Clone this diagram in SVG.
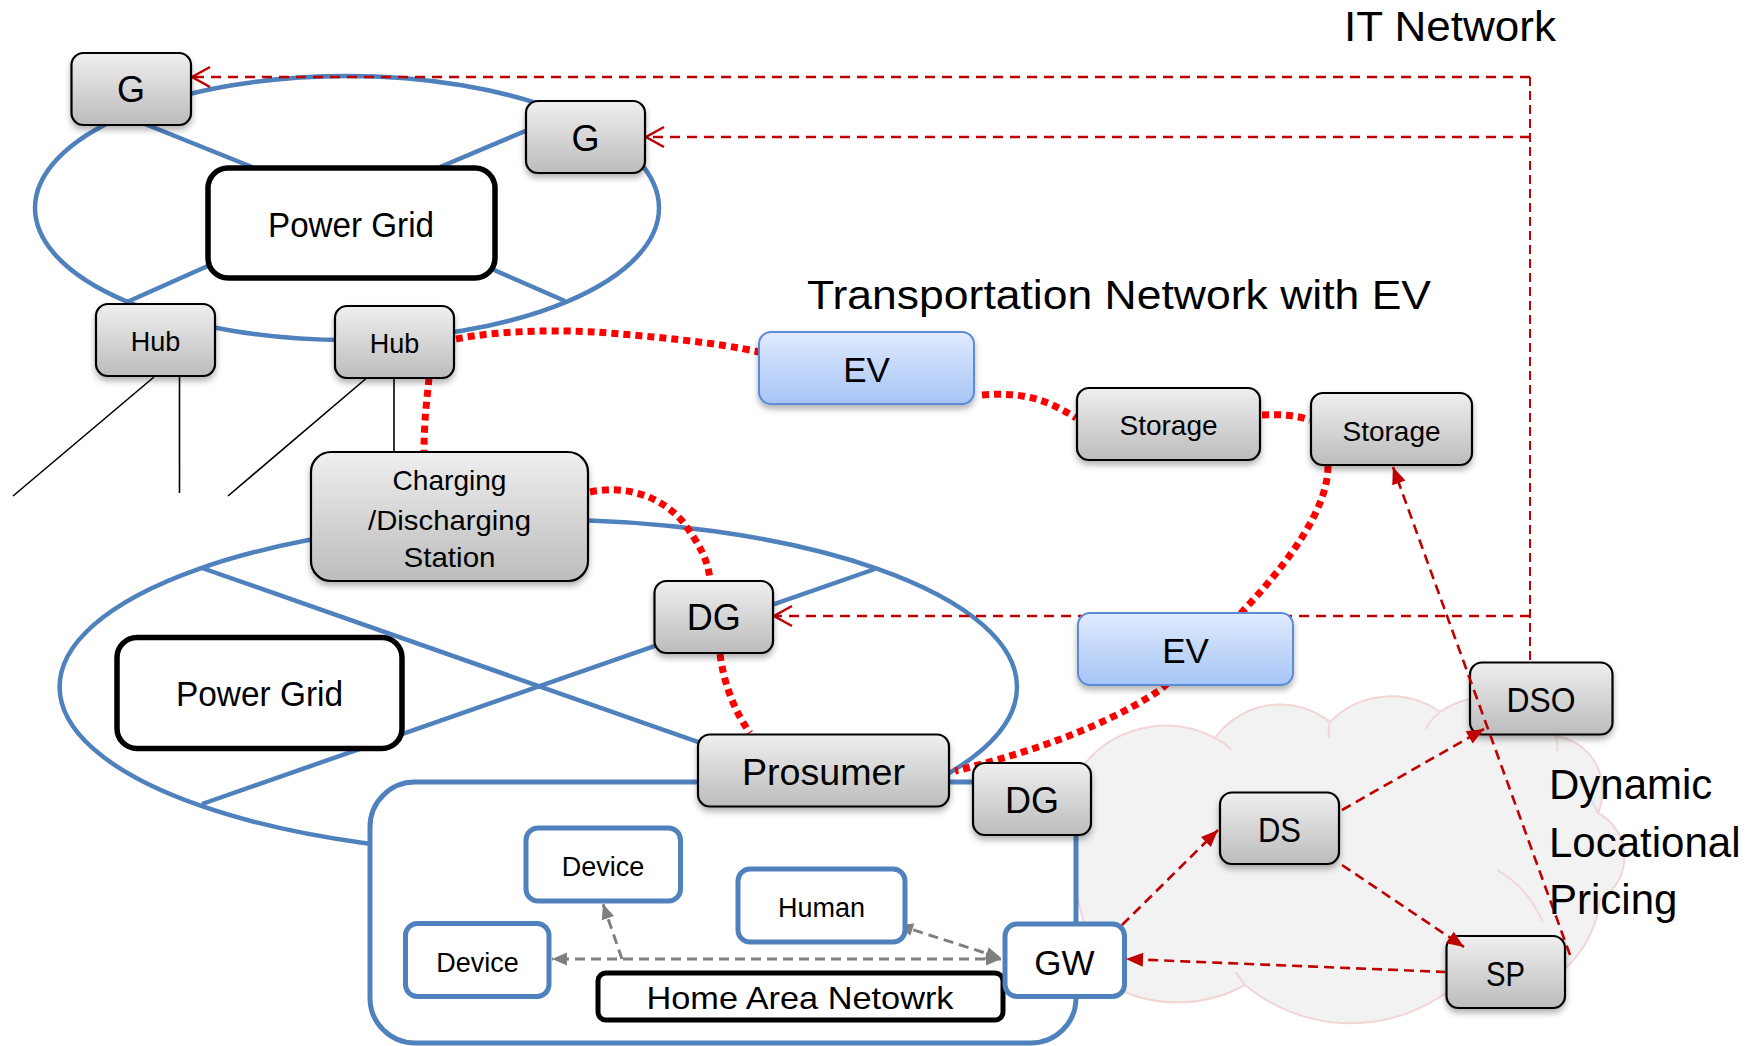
<svg xmlns="http://www.w3.org/2000/svg" width="1752" height="1046" viewBox="0 0 1752 1046">
<style>
.t{font-family:"Liberation Sans",Arial,sans-serif;fill:#000;text-anchor:middle}
.ts{font-family:"Liberation Sans",Arial,sans-serif;fill:#000}
.gray{fill:url(#gGray);stroke:#000;stroke-width:2.2;filter:url(#sh)}
.ev{fill:url(#gBlue);stroke:#5b8bd8;stroke-width:2;filter:url(#sh)}
.pg{fill:#fff;stroke:#000;stroke-width:5.5}
.wb{fill:#fff;stroke:#4f81bd;stroke-width:5}
.grid{fill:none;stroke:#4f81bd;stroke-width:4.5}
.hubl{stroke:#000;stroke-width:1.6;fill:none}
.dot{fill:none;stroke:#ff0000;stroke-width:7;stroke-dasharray:7 5}
.it{fill:none;stroke:#c00000;stroke-width:2.6;stroke-dasharray:10 7}
.itv{fill:none;stroke:#c00000;stroke-width:2;stroke-dasharray:9 5}
.rd{fill:none;stroke:#c00000;stroke-width:2.6;stroke-dasharray:10 6}
.gd{fill:none;stroke:#7f7f7f;stroke-width:3;stroke-dasharray:10 6}
</style>
<defs>
<linearGradient id="gGray" x1="0" y1="0" x2="0" y2="1"><stop offset="0" stop-color="#efefef"/><stop offset="1" stop-color="#bcbcbc"/></linearGradient>
<linearGradient id="gBlue" x1="0" y1="0" x2="0" y2="1"><stop offset="0" stop-color="#e0ebfd"/><stop offset="1" stop-color="#a6c4f6"/></linearGradient>
<filter id="sh" x="-15%" y="-15%" width="130%" height="150%"><feDropShadow dx="0" dy="4" stdDeviation="3" flood-color="#000" flood-opacity="0.3"/></filter>
<marker id="chev" markerUnits="userSpaceOnUse" markerWidth="22" markerHeight="24" refX="19" refY="11" orient="auto" overflow="visible"><path d="M1,1 L19,11 L1,21" fill="none" stroke="#c00000" stroke-width="2.5"/></marker>
<marker id="ar" markerUnits="userSpaceOnUse" markerWidth="18" markerHeight="16" refX="17" refY="7" orient="auto" overflow="visible"><path d="M0,0 L17,7 L0,14 Z" fill="#c00000"/></marker>
<marker id="ag" markerUnits="userSpaceOnUse" markerWidth="16" markerHeight="14" refX="15" refY="6.5" orient="auto-start-reverse" overflow="visible"><path d="M0,0 L15,6.5 L0,13 Z" fill="#7f7f7f"/></marker>
</defs>
<rect width="1752" height="1046" fill="#fff"/>

<g id="grid-top">
<ellipse class="grid" cx="347" cy="208" rx="312" ry="132"/>
<line class="grid" x1="140" y1="122" x2="252" y2="167"/>
<line class="grid" x1="494" y1="270" x2="565" y2="301"/>
<line class="grid" x1="530" y1="129" x2="440" y2="167"/>
<line class="grid" x1="210" y1="265" x2="127" y2="302"/>
</g>

<g id="grid-bottom">
<ellipse class="grid" cx="538.3" cy="687" rx="478.7" ry="167.5"/>
<line class="grid" x1="202" y1="568" x2="875" y2="804"/>
<line class="grid" x1="875" y1="569" x2="202" y2="804"/>
</g>

<g id="cloud">
<path d="M1080,770 A105,105 0 0 1 1215,738 A80,80 0 0 1 1330,722 A85,85 0 0 1 1440,712 A80,80 0 0 1 1555,736 A55,55 0 0 1 1598,813 A50,50 0 0 1 1600,900 A110,110 0 0 1 1450,990 A165,165 0 0 1 1245,985 A140,140 0 0 1 1110,985 A300,300 0 0 1 1080,770 Z" fill="#f2f2f2" stroke="#f2d6d6" stroke-width="2"/>
<path d="M1215,738 q9,4 16,12 M1330,722 q-2,8 -1,15 M1440,712 q-10,8 -14,17 M1556,737 q2,8 1,14 M1497,870 q32,18 46,53 M1245,985 q-6,-7 -9,-13 M1598,813 q-5,-12 -12,-20" fill="none" stroke="#f2d6d6" stroke-width="2"/>
</g>

<g id="home-area-container">
<rect class="wb" x="370" y="782" width="706" height="261" rx="45"/>
</g>

<g id="connectors">
<path class="hubl" d="M154,377 L13,496 M179.5,377 L179.5,493 M369,376 L228,496 M394,378 L394,452"/>
<path class="dot" d="M456,339 C500,330 560,330 595,332 C650,336 720,343 759,352"/>
<path class="dot" d="M429,378 C427,400 424,420 424,451"/>
<path class="dot" d="M982,395 C1020,392 1045,398 1076,418"/>
<path class="dot" d="M1262,415 C1280,414 1295,415 1310,420"/>
<path class="dot" d="M1328,466 C1328,530 1240,620 1160,690 C1100,730 1020,755 955,771"/>
<path class="dot" d="M590,492 C625,485 660,495 683,522 C700,545 708,560 710,580"/>
<path class="dot" d="M720,654 C724,685 735,712 750,733"/>
<line class="itv" x1="1530" y1="77" x2="1530" y2="662"/>
<line class="it" x1="1530" y1="77" x2="192" y2="77" marker-end="url(#chev)"/>
<line class="it" x1="1530" y1="137" x2="646" y2="137" marker-end="url(#chev)"/>
<line class="it" x1="1530" y1="616" x2="774" y2="616" marker-end="url(#chev)"/>
<line class="gd" x1="1001" y1="959" x2="552" y2="959" marker-start="url(#ag)" marker-end="url(#ag)"/>
<line class="gd" x1="622" y1="959" x2="603" y2="904" marker-end="url(#ag)"/>
<line class="gd" x1="898" y1="925" x2="1001" y2="958" marker-start="url(#ag)" marker-end="url(#ag)"/>
</g>

<g id="node-g1"><rect class="gray" x="71.5" y="53" width="119.5" height="72" rx="12"/><text class="t" x="131" y="102" font-size="36">G</text></g>
<g id="node-g2"><rect class="gray" x="526" y="101" width="119" height="72" rx="12"/><text class="t" x="585.5" y="150.5" font-size="36">G</text></g>
<g id="node-powergrid-top"><rect class="pg" x="208" y="168" width="287" height="110" rx="20"/><text class="t" x="351" y="236.5" font-size="35" textLength="166" lengthAdjust="spacingAndGlyphs">Power Grid</text></g>
<g id="node-hub1"><rect class="gray" x="96" y="304" width="119" height="72" rx="12"/><text class="t" x="155.5" y="351" font-size="27">Hub</text></g>
<g id="node-hub2"><rect class="gray" x="335" y="306" width="119" height="72" rx="12"/><text class="t" x="394.5" y="353" font-size="27">Hub</text></g>
<g id="node-charging-station"><rect class="gray" x="311" y="452" width="277" height="129" rx="20"/>
<text class="t" x="449.5" y="490" font-size="28" textLength="114" lengthAdjust="spacingAndGlyphs">Charging</text>
<text class="t" x="449.5" y="529.5" font-size="28" textLength="163" lengthAdjust="spacingAndGlyphs">/Discharging</text>
<text class="t" x="449.5" y="566.5" font-size="28" textLength="92" lengthAdjust="spacingAndGlyphs">Station</text></g>
<g id="node-ev1"><rect class="ev" x="759" y="332" width="215" height="72" rx="12"/><text class="t" x="866.5" y="381.5" font-size="35">EV</text></g>
<g id="node-storage1"><rect class="gray" x="1077" y="388" width="183" height="72" rx="12"/><text class="t" x="1168.5" y="435" font-size="28">Storage</text></g>
<g id="node-storage2"><rect class="gray" x="1311" y="393" width="161" height="72" rx="12"/><text class="t" x="1391.5" y="440.5" font-size="28">Storage</text></g>
<g id="node-powergrid-bottom"><rect class="pg" x="117" y="637.5" width="285" height="111" rx="20"/><text class="t" x="259.5" y="706" font-size="35" textLength="167" lengthAdjust="spacingAndGlyphs">Power Grid</text></g>
<g id="node-dg1"><rect class="gray" x="654.5" y="581" width="118.5" height="72" rx="12"/><text class="t" x="713.7" y="630" font-size="36">DG</text></g>
<g id="node-prosumer"><rect class="gray" x="698" y="734.5" width="251" height="72" rx="12"/><text class="t" x="823.5" y="785" font-size="36" textLength="163" lengthAdjust="spacingAndGlyphs">Prosumer</text></g>
<g id="node-dg2"><rect class="gray" x="973" y="763" width="118" height="72" rx="12"/><text class="t" x="1032" y="812.5" font-size="36">DG</text></g>
<g id="node-ev2"><rect class="ev" x="1078" y="613" width="215" height="72" rx="12"/><text class="t" x="1185.5" y="663" font-size="35">EV</text></g>
<g id="node-dso"><rect class="gray" x="1470" y="662.5" width="142.5" height="72" rx="12"/><text class="t" x="1541" y="712" font-size="35" textLength="69" lengthAdjust="spacingAndGlyphs">DSO</text></g>
<g id="node-ds"><rect class="gray" x="1220" y="792.5" width="119" height="71.5" rx="12"/><text class="t" x="1279.5" y="842" font-size="35" textLength="43" lengthAdjust="spacingAndGlyphs">DS</text></g>
<g id="node-sp"><rect class="gray" x="1446.5" y="936" width="118.5" height="72" rx="12"/><text class="t" x="1505.5" y="986" font-size="35" textLength="39" lengthAdjust="spacingAndGlyphs">SP</text></g>
<g id="node-device1"><rect class="wb" x="526" y="828" width="154.5" height="73" rx="12"/><text class="t" x="603" y="876" font-size="27">Device</text></g>
<g id="node-human"><rect class="wb" x="738" y="869" width="167" height="73" rx="12"/><text class="t" x="821.5" y="917" font-size="27">Human</text></g>
<g id="node-device2"><rect class="wb" x="405.5" y="923.5" width="143.5" height="73" rx="12"/><text class="t" x="477.5" y="971.5" font-size="27">Device</text></g>
<g id="node-han"><rect x="598" y="973" width="405" height="47" rx="8" fill="#fff" stroke="#000" stroke-width="5"/><text class="t" x="800" y="1009" font-size="32" textLength="307" lengthAdjust="spacingAndGlyphs">Home Area Netowrk</text></g>
<g id="node-gw"><rect class="wb" x="1005" y="924" width="119.5" height="72.5" rx="12"/><text class="t" x="1064.5" y="975" font-size="35">GW</text></g>

<g id="connectors-top">
<line class="rd" x1="1122" y1="925" x2="1218" y2="830" marker-end="url(#ar)"/>
<line class="rd" x1="1342" y1="810" x2="1484" y2="729" marker-end="url(#ar)"/>
<line class="rd" x1="1342" y1="865" x2="1464" y2="947" marker-end="url(#ar)"/>
<line class="rd" x1="1446" y1="972" x2="1126" y2="959" marker-end="url(#ar)"/>
<line class="rd" x1="1570" y1="955" x2="1393" y2="467" marker-end="url(#ar)"/>
</g>

<g id="labels">
<text class="ts" x="1344" y="41" font-size="43" textLength="212" lengthAdjust="spacingAndGlyphs">IT Network</text>
<text class="ts" x="807" y="308.5" font-size="41" textLength="624" lengthAdjust="spacingAndGlyphs">Transportation Network with EV</text>
<text class="ts" x="1549" y="799" font-size="42">Dynamic</text>
<text class="ts" x="1549" y="857" font-size="42">Locational</text>
<text class="ts" x="1549" y="914" font-size="42">Pricing</text>
</g>
</svg>
